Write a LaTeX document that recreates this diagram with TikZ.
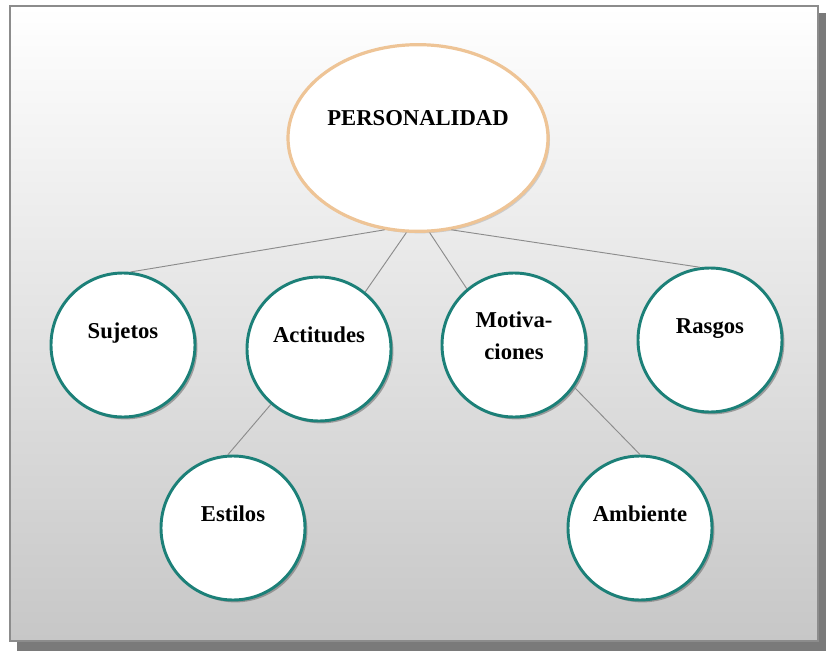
\documentclass[tikz,border=0pt]{standalone}
\usepackage{fontspec}
\setmainfont{Liberation Serif}
\usetikzlibrary{positioning,shapes.geometric,shadows}
\definecolor{rimteal}{RGB}{28,128,120}
\definecolor{rimtan}{RGB}{238,196,150}
\definecolor{linkgray}{RGB}{140,140,140}
\tikzset{
  bubble/.style = {circle, draw=rimteal, line width=2.2pt, fill=white,
                   minimum size=108pt, inner sep=2pt,
                   font=\fontsize{17}{20}\selectfont\bfseries,
                   text height=12pt, text depth=22pt,
                   drop shadow={shadow xshift=1.8pt, shadow yshift=-1.8pt,
                                fill=black!60, opacity=.55}},
  hub/.style    = {ellipse, draw=rimtan, line width=2.4pt, fill=white,
                   minimum width=195pt, minimum height=140pt,
                   font=\fontsize{17}{20}\selectfont\bfseries,
                   text height=12pt, text depth=31pt,
                   drop shadow={shadow xshift=1.5pt, shadow yshift=-1.5pt,
                                fill=black!40, opacity=.4}},
  link/.style   = {draw=linkgray, line width=.7pt}
}

\begin{document}
\begin{tikzpicture}[x=0.75pt, y=-0.75pt]   % Koordinaten in Pixeln
    \useasboundingbox (0,0) rectangle (826,653);
    % Rahmen mit Schatten
    \fill[black!52] (17,13) rectangle (826,651);
    \shade[top color=white, bottom color=black!22, draw=black!45, line width=1.8pt]
      (10,6) rectangle (818,641);

    \node[hub] (pers) at (418,138) {\makebox[0pt]{PERSONALIDAD}};

    \node[bubble] (suj)  at (123,345) {Sujetos};
    \node[bubble] (acti) at (319,349) {Actitudes};
    \node[bubble, align=center, text height=, text depth=]
                  (moti) at (514,345) {Motiva-\\[4pt]ciones\rule[-14pt]{0pt}{0pt}};
    \node[bubble] (ras)  at (710,340) {Rasgos};
    \node[bubble] (esti) at (233,528) {Estilos};
    \node[bubble] (amb)  at (640,528) {Ambiente};

    % Verbindungen
    \draw[link] (pers.250) -- (suj.84);
    \draw[link] (pers.263) -- (acti.51);
    \draw[link] (pers.277) -- (moti.130);
    \draw[link] (pers.290) -- (ras.98);
    \draw[link] (acti.229) -- (esti.94);
    \draw[link] (moti.325) -- (amb.90);
  \end{tikzpicture}
\end{document}
